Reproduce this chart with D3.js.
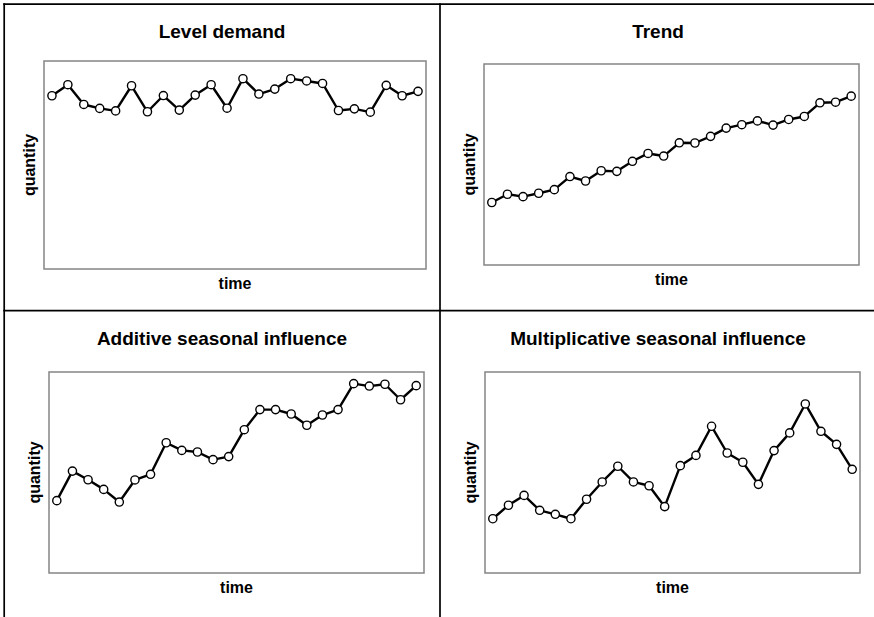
<!DOCTYPE html>
<html>
<head>
<meta charset="utf-8">
<script src="https://cdn.jsdelivr.net/npm/d3@7"></script>
<style>
  html, body { margin: 0; padding: 0; background: #fff; }
  svg { display: block; font-family: "Liberation Sans", Arial, Helvetica, sans-serif; }
</style>
</head>
<body>
<svg id="chart" width="874" height="617"></svg>
<script>
// Time periods shared by all four series
const periods = [1, 2, 3, 4, 5, 6, 7, 8, 9, 10, 11, 12, 13, 14, 15, 16, 17, 18, 19, 20, 21, 22, 23, 24];

// Demand patterns (quantity, arbitrary units 0-100)
const levelDemand = [83.3, 88.6, 79.1, 77.2, 76.0, 88.1, 75.6, 83.4, 76.4, 83.6, 88.6, 77.3,
                     91.5, 84.1, 86.5, 91.5, 90.4, 89.2, 76.2, 77.0, 75.4, 88.3, 83.3, 85.4];
const trendDemand = [31.1, 35.2, 34.0, 35.7, 37.5, 44.0, 41.8, 46.9, 46.6, 51.6, 55.5, 54.2,
                     60.8, 60.7, 64.0, 68.1, 69.8, 71.7, 69.6, 72.4, 73.9, 80.7, 81.0, 84.0];
const additiveDemand = [36.0, 50.7, 46.4, 41.6, 35.3, 46.3, 49.1, 64.8, 61.0, 60.2, 56.4, 57.9,
                        71.3, 81.3, 81.3, 79.1, 73.5, 78.6, 81.3, 94.2, 93.0, 93.9, 86.2, 93.2];
const multiplicativeDemand = [27.0, 33.7, 38.6, 31.2, 29.2, 27.0, 36.7, 45.3, 53.1, 45.3, 43.4, 33.0,
                              53.4, 58.5, 73.0, 59.7, 55.1, 44.1, 60.9, 69.7, 84.1, 70.5, 64.0, 51.6];

const titles = ["Level demand", "Trend", "Additive seasonal influence", "Multiplicative seasonal influence"];
const xLabel = "time";
const yLabel = "quantity";

// Panel layout: cell centre for the title, plus the plotting box
const panels = [
  { title: titles[0], values: levelDemand,          cx: 222, titleY: 38.3, box: { x0: 44,  x1: 426, y0: 61,  y1: 269 } },
  { title: titles[1], values: trendDemand,          cx: 658, titleY: 38.3, box: { x0: 484, x1: 859, y0: 64,  y1: 265 } },
  { title: titles[2], values: additiveDemand,       cx: 222, titleY: 345,  box: { x0: 49,  x1: 424, y0: 372, y1: 573 } },
  { title: titles[3], values: multiplicativeDemand, cx: 658, titleY: 345,  box: { x0: 485, x1: 860, y0: 372, y1: 573 } }
];

const svg = d3.select("#chart");

// Frame lines separating the four cells
const frame = svg.append("g").attr("stroke", "#000").attr("stroke-width", 1.7);
frame.append("line").attr("x1", 4.2).attr("x2", 4.2).attr("y1", 3.3).attr("y2", 617);
frame.append("line").attr("x1", 3.3).attr("x2", 874).attr("y1", 4.2).attr("y2", 4.2);
frame.append("line").attr("x1", 440).attr("x2", 440).attr("y1", 3.3).attr("y2", 617);
frame.append("line").attr("x1", 3.3).attr("x2", 874).attr("y1", 310.6).attr("y2", 310.6);

panels.forEach(p => {
  const b = p.box;
  const x = d3.scaleLinear().domain([0.5, 24.5]).range([b.x0, b.x1]);
  const y = d3.scaleLinear().domain([0, 100]).range([b.y1, b.y0]);
  const g = svg.append("g");

  g.append("rect")
    .attr("x", b.x0).attr("y", b.y0)
    .attr("width", b.x1 - b.x0).attr("height", b.y1 - b.y0)
    .attr("fill", "none").attr("stroke", "#858585").attr("stroke-width", 1.5);

  g.append("text")
    .attr("x", p.cx).attr("y", p.titleY)
    .attr("text-anchor", "middle")
    .attr("font-size", 19).attr("font-weight", "bold")
    .text(p.title);

  g.append("text")
    .attr("x", (b.x0 + b.x1) / 2).attr("y", b.y1 + 19.5)
    .attr("text-anchor", "middle")
    .attr("font-size", 16).attr("font-weight", "bold")
    .text(xLabel);

  g.append("text")
    .attr("transform", `translate(${b.x0 - 9},${(b.y0 + b.y1) / 2}) rotate(-90)`)
    .attr("text-anchor", "middle")
    .attr("font-size", 16).attr("font-weight", "bold")
    .text(yLabel);

  const pts = periods.map((t, i) => [t, p.values[i]]);

  g.append("path")
    .datum(pts)
    .attr("fill", "none").attr("stroke", "#000").attr("stroke-width", 2.4)
    .attr("stroke-linejoin", "round")
    .attr("d", d3.line().x(d => x(d[0])).y(d => y(d[1])));

  g.selectAll("circle")
    .data(pts)
    .join("circle")
    .attr("cx", d => x(d[0])).attr("cy", d => y(d[1]))
    .attr("r", 4.1)
    .attr("fill", "#fff").attr("stroke", "#000").attr("stroke-width", 1.4);
});
</script>
</body>
</html>
